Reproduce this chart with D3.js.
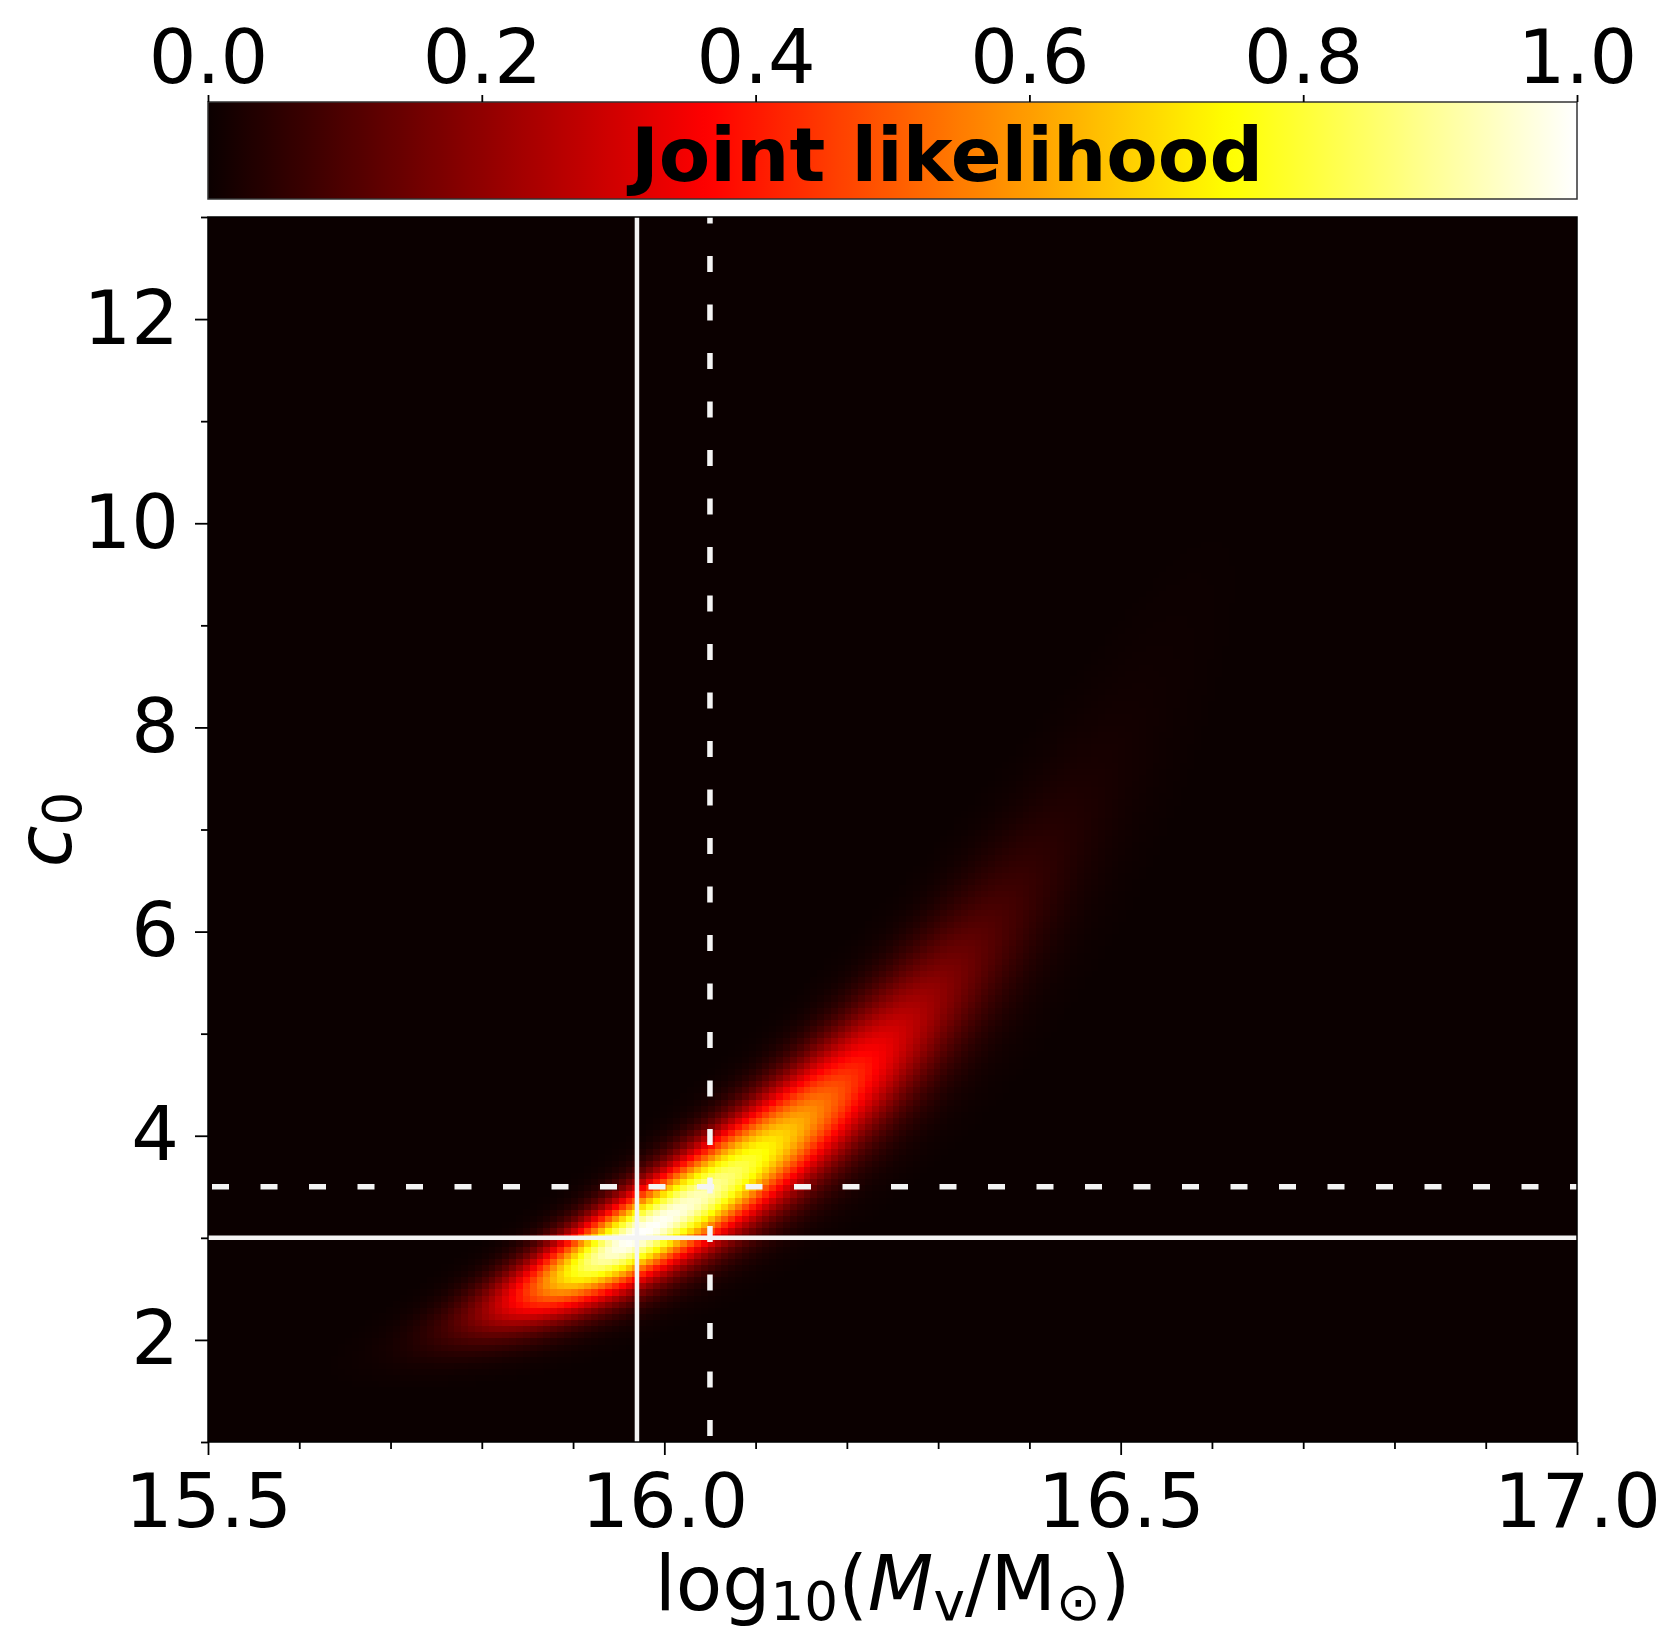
<!DOCTYPE html>
<html>
<head>
<meta charset="utf-8">
<script src="https://cdn.jsdelivr.net/npm/d3@7"></script>
<style>
  body { margin: 0; background: #ffffff; }
  svg { display: block; }
  text { font-family: "DejaVu Sans", sans-serif; fill: #000; }
</style>
</head>
<body>
<svg id="chart" width="1663" height="1632"></svg>
<script>
// ---- axis ranges and ticks ----
const massRange = [15.5, 17.0];          // log10(Mv / Msun)
const concRange = [1, 13];               // c0
const massTicks = [15.5, 16.0, 16.5, 17.0];
const massMinorTicks = [15.6, 15.7, 15.8, 15.9, 16.1, 16.2, 16.3, 16.4, 16.6, 16.7, 16.8, 16.9];
const concTicks = [2, 4, 6, 8, 10, 12];
const concMinorTicks = [1, 3, 5, 7, 9, 11, 13];
const colorbarTicks = [0.0, 0.2, 0.4, 0.6, 0.8, 1.0];

// ---- likelihood grid ----
const gridShape = [200, 200];            // cells along mass, concentration
// ridge of the joint likelihood: peak position, ln(c0) of the ridge as a quadratic in
// mass offset, widths along the ridge (below / above the peak, dex) and across it
// (in c0 at the peak, growing as a power of the ridge concentration)
const ridgePeak = [15.97, 3.02];
const ridgeCurve = [1.68, 0.1];
const alongWidth = [0.095, 0.185];
const acrossWidth = [0.3, 0.95];

// ---- reference values marked by lines ----
const solidMarks = [15.97, 3.0];         // [mass, concentration]
const dashedMarks = [16.05, 3.5];

// ---- matplotlib "hot" colour map segments ----
const hotRed   = [[0, 0.0416], [0.365079, 1], [1, 1]];
const hotGreen = [[0, 0], [0.365079, 0], [0.746032, 1], [1, 1]];
const hotBlue  = [[0, 0], [0.746032, 0], [1, 1]];

// ---- layout ----
const W = 1663, H = 1632;
const plot = { left: 208, right: 1577, top: 217, bottom: 1442 };
const cbar = { left: 208, right: 1577, top: 102, bottom: 199 };
const tickFont = 75, labelFont = 76;

const svg = d3.select("#chart");
svg.append("rect").attr("width", W).attr("height", H).attr("fill", "#fff");

const x = d3.scaleLinear().domain(massRange).range([plot.left, plot.right]);
const y = d3.scaleLinear().domain(concRange).range([plot.bottom, plot.top]);

const seg = s => d3.scaleLinear().domain(s.map(d => d[0])).range(s.map(d => d[1])).clamp(true);
const rS = seg(hotRed), gS = seg(hotGreen), bS = seg(hotBlue);
const hot = v => d3.rgb(255 * rS(v), 255 * gS(v), 255 * bS(v)).formatHex();

// likelihood surface evaluated on the grid
const [nx, ny] = gridShape;
const dxCell = (massRange[1] - massRange[0]) / nx;
const dyCell = (concRange[1] - concRange[0]) / ny;
const cells = [];
let vmax = 0;
for (let i = 0; i < nx; i++) {
  const m = massRange[0] + (i + 0.5) * dxCell;
  const t = m - ridgePeak[0];
  const sAlong = t < 0 ? alongWidth[0] : alongWidth[1];
  const cRidge = ridgePeak[1] * Math.exp(ridgeCurve[0] * t + ridgeCurve[1] * t * t);
  const sAcross = acrossWidth[0] * Math.pow(cRidge / ridgePeak[1], acrossWidth[1]);
  for (let j = 0; j < ny; j++) {
    const c = concRange[0] + (j + 0.5) * dyCell;
    const d = c - cRidge;
    const v = Math.exp(-0.5 * (t / sAlong) ** 2 - 0.5 * (d / sAcross) ** 2);
    cells.push({ m, c, v });
    if (v > vmax) vmax = v;
  }
}
cells.forEach(d => d.v /= vmax);

// clip to the axes box
const defs = svg.append("defs");
defs.append("clipPath").attr("id", "plotClip")
  .append("rect").attr("x", plot.left).attr("y", plot.top)
  .attr("width", plot.right - plot.left).attr("height", plot.bottom - plot.top);

const img = svg.append("g").attr("clip-path", "url(#plotClip)");
img.append("rect")
  .attr("x", plot.left).attr("y", plot.top)
  .attr("width", plot.right - plot.left).attr("height", plot.bottom - plot.top)
  .attr("fill", hot(0));

img.append("g").attr("shape-rendering", "crispEdges")
  .selectAll("rect")
  .data(cells.filter(d => d.v > 0.002))
  .join("rect")
  .attr("x", d => x(d.m - dxCell / 2))
  .attr("y", d => y(d.c + dyCell / 2))
  .attr("width", d => x(d.m + dxCell / 2) - x(d.m - dxCell / 2) + 0.6)
  .attr("height", d => y(d.c - dyCell / 2) - y(d.c + dyCell / 2) + 0.6)
  .attr("fill", d => hot(d.v));

// marker lines
const lines = img.append("g").attr("stroke", "#f4f4f4").attr("fill", "none");
lines.append("line")
  .attr("x1", x(solidMarks[0])).attr("x2", x(solidMarks[0]))
  .attr("y1", plot.bottom).attr("y2", plot.top)
  .attr("stroke-width", 4.5);
lines.append("line")
  .attr("x1", plot.left).attr("x2", plot.right)
  .attr("y1", y(solidMarks[1])).attr("y2", y(solidMarks[1]))
  .attr("stroke-width", 4.5);
lines.append("line")
  .attr("x1", x(dashedMarks[0])).attr("x2", x(dashedMarks[0]))
  .attr("y1", plot.bottom).attr("y2", plot.top)
  .attr("stroke-width", 5.5).attr("stroke-dasharray", "16 32.5").attr("stroke-dashoffset", -6);
lines.append("line")
  .attr("x1", plot.left).attr("x2", plot.right)
  .attr("y1", y(dashedMarks[1])).attr("y2", y(dashedMarks[1]))
  .attr("stroke-width", 5.5).attr("stroke-dasharray", "17 31.5").attr("stroke-dashoffset", -4);

// axes frame
svg.append("rect")
  .attr("x", plot.left).attr("y", plot.top)
  .attr("width", plot.right - plot.left).attr("height", plot.bottom - plot.top)
  .attr("fill", "none").attr("stroke", "#000").attr("stroke-width", 1.5);

function styleAxis(g) {
  g.select(".domain").remove();
  g.selectAll(".tick line").attr("stroke", "#000").attr("stroke-width", 1.8);
  g.selectAll("text").attr("font-size", tickFont).attr("fill", "#000")
    .attr("font-family", '"DejaVu Sans", sans-serif');
}

// x axis
svg.append("g").attr("transform", `translate(0,${plot.bottom})`)
  .call(d3.axisBottom(x).tickValues(massMinorTicks).tickSize(7).tickFormat(""))
  .call(styleAxis);
svg.append("g").attr("transform", `translate(0,${plot.bottom})`)
  .call(d3.axisBottom(x).tickValues(massTicks).tickSize(13).tickPadding(19).tickFormat(d3.format(".1f")))
  .call(styleAxis);

// y axis
svg.append("g").attr("transform", `translate(${plot.left},0)`)
  .call(d3.axisLeft(y).tickValues(concMinorTicks).tickSize(7).tickFormat(""))
  .call(styleAxis);
svg.append("g").attr("transform", `translate(${plot.left},0)`)
  .call(d3.axisLeft(y).tickValues(concTicks).tickSize(13).tickPadding(16).tickFormat(d3.format("d")))
  .call(styleAxis);

// axis titles
const sub = 10;
const xt = svg.append("text")
  .attr("x", (plot.left + plot.right) / 2).attr("y", 1610)
  .attr("text-anchor", "middle").attr("font-size", labelFont);
xt.append("tspan").text("log");
xt.append("tspan").attr("font-size", labelFont * 0.7).attr("dy", sub).text("10");
xt.append("tspan").attr("dy", -sub).text("(");
xt.append("tspan").attr("font-style", "italic").text("M");
xt.append("tspan").attr("font-size", labelFont * 0.7).attr("dy", sub).text("v");
xt.append("tspan").attr("dy", -sub).text("/M");
xt.append("tspan").attr("font-size", labelFont * 0.7).attr("dy", sub).text("\u2299");
xt.append("tspan").attr("dy", -sub).text(")");

const yt = svg.append("text")
  .attr("transform", `translate(71,${(plot.top + plot.bottom) / 2}) rotate(-90)`)
  .attr("text-anchor", "middle").attr("font-size", labelFont);
yt.append("tspan").attr("font-style", "italic").text("c");
yt.append("tspan").attr("font-size", labelFont * 0.7).attr("dy", sub).text("0");

// colour bar
const cx = d3.scaleLinear().domain([0, 1]).range([cbar.left, cbar.right]);
const grad = defs.append("linearGradient").attr("id", "hotGrad")
  .attr("x1", "0%").attr("x2", "100%").attr("y1", "0%").attr("y2", "0%");
grad.selectAll("stop").data(d3.range(0, 1.0001, 0.01)).join("stop")
  .attr("offset", d => `${d * 100}%`).attr("stop-color", d => hot(d));
svg.append("rect")
  .attr("x", cbar.left).attr("y", cbar.top)
  .attr("width", cbar.right - cbar.left).attr("height", cbar.bottom - cbar.top)
  .attr("fill", "url(#hotGrad)").attr("stroke", "#333").attr("stroke-width", 1.5);
svg.append("g").attr("transform", `translate(0,${cbar.top})`)
  .call(d3.axisTop(cx).tickValues(colorbarTicks).tickSize(7).tickPadding(12).tickFormat(d3.format(".1f")))
  .call(styleAxis);
svg.append("text")
  .attr("x", 947).attr("y", 181)
  .attr("text-anchor", "middle").attr("font-size", 75).attr("font-weight", "bold")
  .text("Joint likelihood");
</script>
</body>
</html>
